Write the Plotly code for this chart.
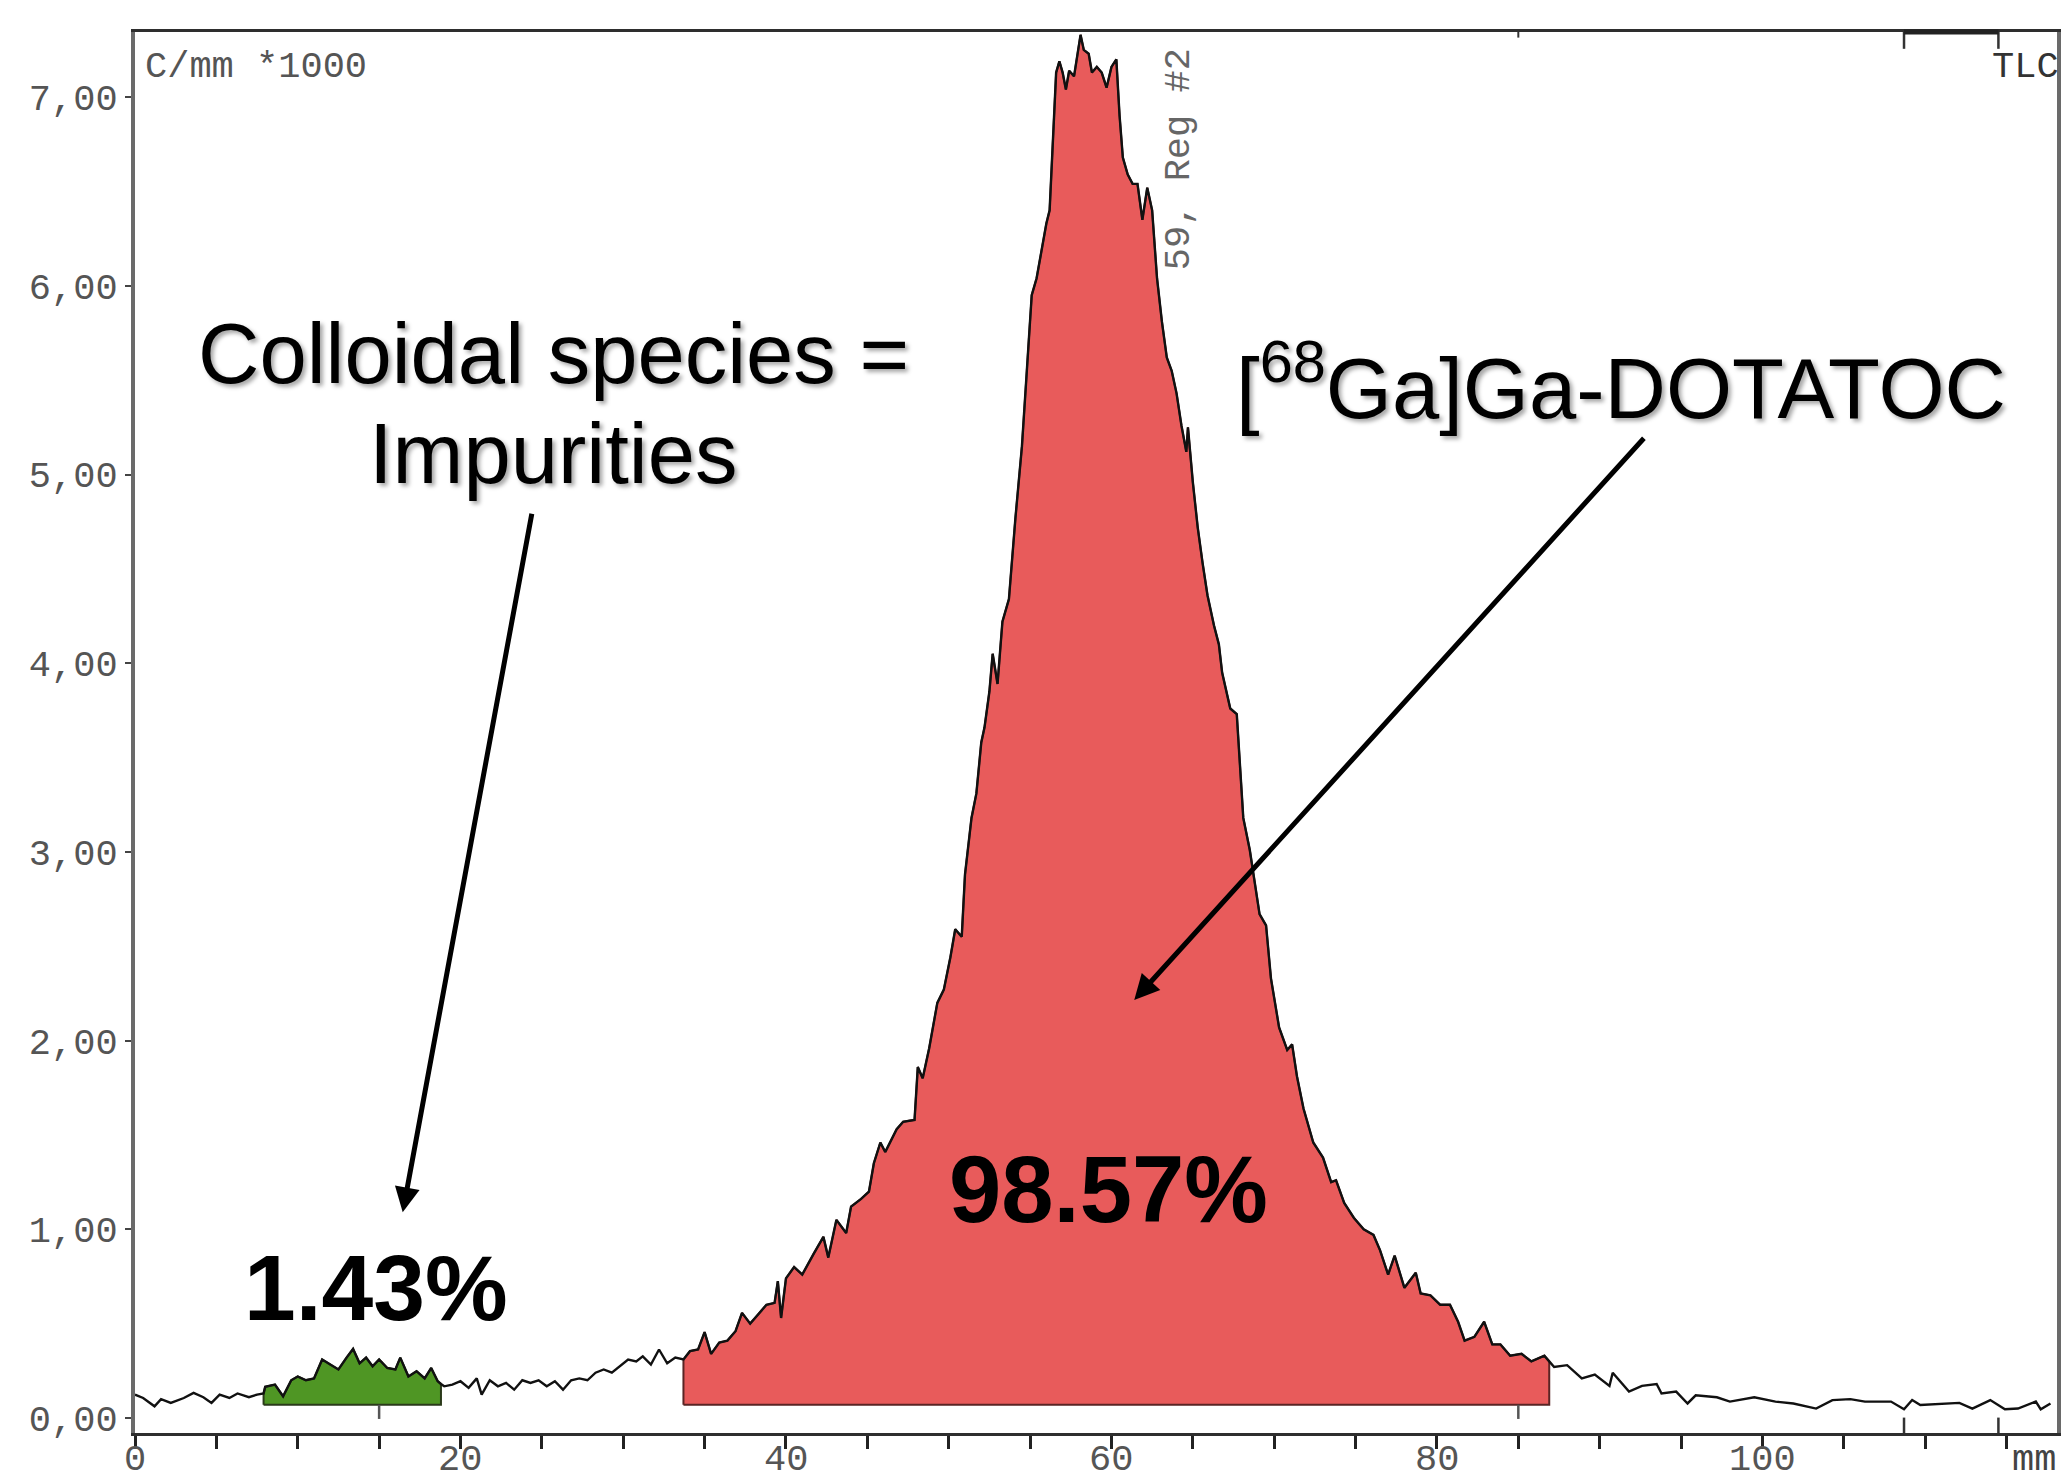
import plotly.graph_objects as go
import numpy as np

# ---------------- data ----------------
x_mm = [0.0, 0.5, 1.2, 1.6, 2.2, 3.0, 3.6, 4.2, 4.7, 5.2, 5.8, 6.3, 7.0, 7.5, 7.9,
        8.0, 8.6, 9.1, 9.6, 10.0, 10.5, 11.0, 11.5, 12.0, 12.5, 13.0, 13.4, 13.8, 14.2,
        14.6, 15.0, 15.5, 16.0, 16.3, 16.8, 17.3, 17.8, 18.2, 18.6, 18.8, 19.0, 19.5,
        20.0, 20.5, 21.0, 21.3, 21.8, 22.3, 22.8, 23.3, 23.8, 24.3, 24.8, 25.3, 25.8,
        26.3, 26.8, 27.3, 27.8, 28.3, 28.8, 29.3, 29.8, 30.3, 30.8, 31.2, 31.7, 32.2,
        32.7, 33.2, 33.7, 34.1, 34.6, 35.0, 35.4, 35.9, 36.4, 36.9, 37.3, 37.8, 38.3,
        38.8, 39.3, 39.5, 39.7, 40.0, 40.5, 41.0, 41.7, 42.3, 42.6, 43.1, 43.7, 44.0,
        44.6, 45.1, 45.4, 45.8, 46.1, 46.8, 47.2, 47.9, 48.1, 48.4, 48.8, 49.3, 49.7,
        50.1, 50.4, 50.8, 51.0, 51.4, 51.7, 52.0, 52.2, 52.5, 52.7, 53.0, 53.3, 53.7,
        54.1, 54.5, 54.8, 55.1, 55.4, 55.7, 56.0, 56.2, 56.4, 56.6, 56.8, 57.0, 57.2,
        57.4, 57.7, 57.9, 58.1, 58.3, 58.6, 58.8, 59.1, 59.4, 59.7, 60.0, 60.3, 60.5,
        60.7, 61.0, 61.3, 61.6, 61.9, 62.2, 62.5, 62.8, 63.1, 63.4, 63.7, 64.0, 64.3,
        64.6, 64.7, 65.0, 65.3, 65.6, 65.9, 66.3, 66.6, 66.8, 67.3, 67.7, 68.1, 68.5,
        69.1, 69.5, 69.8, 70.3, 70.8, 71.1, 71.4, 71.8, 72.4, 73.0, 73.5, 73.8, 74.3,
        74.9, 75.5, 76.1, 76.5, 77.0, 77.4, 78.0, 78.7, 79.0, 79.6, 80.2, 80.8, 81.3,
        81.7, 82.3, 82.9, 83.4, 83.9, 84.5, 85.2, 85.8, 86.6, 86.9, 87.2, 88.0, 88.9,
        89.7, 90.6, 90.8, 91.8, 92.6, 93.5, 93.8, 94.7, 95.4, 95.9, 97.2, 98.0, 99.5,
        100.8, 101.9, 103.3, 104.3, 105.4, 106.3, 107.9, 108.7, 109.2, 109.7, 111.1,
        112.1, 112.9, 114.0, 114.9, 115.7, 116.8, 117.1, 117.7]

counts_k = [0.124, 0.106, 0.062, 0.10, 0.08, 0.106, 0.133, 0.11, 0.08, 0.124, 0.106, 0.13, 0.11, 0.124, 0.13,
            0.165, 0.177, 0.115, 0.20, 0.22, 0.20, 0.21, 0.31, 0.283, 0.257, 0.32, 0.366, 0.29, 0.32,
            0.274, 0.31, 0.265, 0.257, 0.32, 0.22, 0.248, 0.21, 0.265, 0.195, 0.18, 0.168, 0.177,
            0.195, 0.16, 0.21, 0.124, 0.20, 0.168, 0.186, 0.15, 0.20, 0.186, 0.20, 0.168, 0.195,
            0.15, 0.20, 0.21, 0.20, 0.24, 0.257, 0.24, 0.274, 0.31, 0.30, 0.327, 0.283, 0.363,
            0.29, 0.32, 0.31, 0.354, 0.363, 0.455, 0.34, 0.40, 0.41, 0.46, 0.557, 0.50, 0.55,
            0.60, 0.61, 0.725, 0.53, 0.74, 0.80, 0.76, 0.87, 0.96, 0.85, 1.05, 0.98, 1.12,
            1.16, 1.20, 1.35, 1.46, 1.41, 1.53, 1.57, 1.58, 1.86, 1.80, 1.96, 2.20, 2.27,
            2.44, 2.59, 2.55, 2.88, 3.18, 3.31, 3.58, 3.66, 3.85, 4.05, 3.89, 4.22, 4.34,
            4.77, 5.15, 5.55, 5.95, 6.04, 6.19, 6.33, 6.40, 6.80, 7.13, 7.19, 7.13, 7.04,
            7.14, 7.11, 7.23, 7.33, 7.25, 7.23, 7.13, 7.16, 7.13, 7.05, 7.16, 7.20, 6.90,
            6.68, 6.59, 6.54, 6.54, 6.35, 6.52, 6.40, 6.04, 5.81, 5.62, 5.55, 5.43, 5.26,
            5.12, 5.25, 4.96, 4.72, 4.53, 4.36, 4.20, 4.10, 3.95, 3.76, 3.73, 3.18, 3.01,
            2.67, 2.61, 2.33, 2.07, 1.95, 1.98, 1.81, 1.64, 1.46, 1.38, 1.25, 1.26, 1.14,
            1.06, 1.00, 0.97, 0.89, 0.76, 0.86, 0.69, 0.77, 0.66, 0.65, 0.60, 0.60, 0.51,
            0.41, 0.43, 0.51, 0.39, 0.39, 0.33, 0.34, 0.30, 0.33, 0.30, 0.27, 0.28, 0.21,
            0.23, 0.17, 0.24, 0.14, 0.17, 0.18, 0.13, 0.14, 0.077, 0.12, 0.11, 0.087, 0.11,
            0.087, 0.077, 0.05, 0.095, 0.10, 0.087, 0.087, 0.046, 0.095, 0.069, 0.077,
            0.08, 0.05, 0.095, 0.046, 0.05, 0.087, 0.046, 0.077]

# integration regions (mm) and their baseline level
region_names = ["Colloidal species", "[68Ga]Ga-DOTATOC"]
region_start = [7.9, 33.7]
region_end = [18.8, 86.9]
region_baseline = [0.07, 0.07]
region_percent = ["1.43%", "98.57%"]

# instrument region marks (mm)
front_marks_mm = [15, 85]
side_marks_mm = [108.7, 114.5]

y_ticks = [0, 1, 2, 3, 4, 5, 6, 7]
y_ticktext = ["0,00", "1,00", "2,00", "3,00", "4,00", "5,00", "6,00", "7,00"]
x_ticks = [0, 20, 40, 60, 80, 100]
x_ticktext = ["0", "20", "40", "60", "80", "100"]
x_unit = "mm"

# ---------------- figure ----------------
X_RANGE = [0, 118.1]
Y_RANGE = [-0.0795, 7.345]
region_fill = ["#4f9624", "#e85b5b"]
region_edge = ["#2a3a1a", "#5a2424"]

xa = np.array(x_mm)
ya = np.array(counts_k)

fig = go.Figure()

for i in range(len(region_names)):
    s, e, b = region_start[i], region_end[i], region_baseline[i]
    m = (xa > s) & (xa < e)
    px = [s, s] + list(xa[m]) + [e, e, s]
    py = [b, float(np.interp(s, xa, ya))] + list(ya[m]) + [float(np.interp(e, xa, ya)), b, b]
    fig.add_trace(go.Scatter(x=px, y=py, mode="lines", fill="toself",
                             fillcolor=region_fill[i],
                             line=dict(color=region_edge[i], width=2),
                             hoverinfo="skip", showlegend=False))

fig.add_trace(go.Scatter(x=x_mm, y=counts_k, mode="lines",
                         line=dict(color="#111111", width=2.4),
                         hoverinfo="skip", showlegend=False))

shapes = []
for xm in front_marks_mm:
    shapes.append(dict(type="line", xref="x", yref="y", x0=xm, x1=xm, y0=-0.005, y1=0.07,
                       line=dict(color="#555555", width=2.5)))
for xm in side_marks_mm:
    shapes.append(dict(type="line", xref="x", yref="paper", x0=xm, x1=xm, y0=0, y1=0.011,
                       line=dict(color="#333333", width=2.5)))
    shapes.append(dict(type="line", xref="x", yref="paper", x0=xm, x1=xm, y0=1, y1=0.988,
                       line=dict(color="#333333", width=2.5)))
shapes.append(dict(type="line", xref="x", yref="paper", x0=side_marks_mm[0], x1=side_marks_mm[1],
                   y0=1, y1=1, line=dict(color="#222222", width=5)))
shapes.append(dict(type="line", xref="x", yref="paper", x0=front_marks_mm[1], x1=front_marks_mm[1],
                   y0=1, y1=0.996, line=dict(color="#333333", width=2)))

mono = "Liberation Mono, Courier New, monospace"
sans = "Liberation Sans, Arial, sans-serif"
shadow = "3px 3px 4px rgba(0,0,0,0.35)"

annotations = [
    dict(x=0, y=7.16, xref="x", yref="y", text="C/mm *1000", showarrow=False,
         xanchor="left", yanchor="middle", xshift=8, font=dict(family=mono, size=37, color="#555555")),
    dict(x=X_RANGE[1], y=7.16, xref="x", yref="y", text="TLC", showarrow=False,
         xanchor="right", yanchor="middle", xshift=4, font=dict(family=mono, size=37, color="#333333")),
    dict(x=64.2, y=6.67, xref="x", yref="y", text="59, Reg #2", showarrow=False, textangle=-90,
         xanchor="center", yanchor="middle", font=dict(family=mono, size=37, color="#666666")),
    dict(x=116.7, y=0, xref="x", yref="paper", text=x_unit, showarrow=False,
         xanchor="center", yanchor="top", yshift=-4, font=dict(family=mono, size=37, color="#444444")),
    dict(x=25.7, y=5.64, xref="x", yref="y", text="Colloidal species =", showarrow=False,
         xanchor="center", yanchor="middle", font=dict(family=sans, size=85, color="black", shadow=shadow)),
    dict(x=25.7, y=5.11, xref="x", yref="y", text="Impurities", showarrow=False,
         xanchor="center", yanchor="middle", font=dict(family=sans, size=85, color="black", shadow=shadow)),
    dict(x=91.3, y=5.49, xref="x", yref="y", text="[<sup>68</sup>Ga]Ga-DOTATOC", showarrow=False,
         xanchor="center", yanchor="middle", font=dict(family=sans, size=85, color="black", shadow=shadow)),
    dict(x=14.8, y=0.69, xref="x", yref="y", text="<b>" + region_percent[0] + "</b>", showarrow=False,
         xanchor="center", yanchor="middle", font=dict(family=sans, size=93, color="black")),
    dict(x=59.8, y=1.21, xref="x", yref="y", text="<b>" + region_percent[1] + "</b>", showarrow=False,
         xanchor="center", yanchor="middle", font=dict(family=sans, size=94, color="black")),
    # arrows
    dict(x=16.45, y=1.09, ax=24.4, ay=4.80, xref="x", yref="y", axref="x", ayref="y", text="",
         showarrow=True, arrowhead=2, arrowsize=1.0, arrowwidth=5, arrowcolor="black"),
    dict(x=61.4, y=2.215, ax=92.8, ay=5.20, xref="x", yref="y", axref="x", ayref="y", text="",
         showarrow=True, arrowhead=2, arrowsize=1.0, arrowwidth=5, arrowcolor="black"),
]

# x tick labels (drawn close under the axis, partly cut by the page edge as in the reference)
for tv, tt in zip(x_ticks, x_ticktext):
    annotations.append(dict(x=tv, y=0, xref="x", yref="paper", text=tt, showarrow=False,
                            xanchor="center", yanchor="top", yshift=-4,
                            font=dict(family=mono, size=37, color="#555555")))

fig.update_layout(
    width=2063, height=1473,
    margin=dict(l=135, r=6, t=32, b=40, autoexpand=False),
    paper_bgcolor="white", plot_bgcolor="white",
    showlegend=False, hovermode=False,
    shapes=shapes, annotations=annotations,
    xaxis=dict(range=X_RANGE, tickvals=x_ticks, ticks="outside", ticklen=13, tickwidth=3,
               tickcolor="#222222", showgrid=False, zeroline=False, showticklabels=False,
               showline=True, linecolor="#2e2e2e", linewidth=3, mirror=True,
               minor=dict(dtick=5, tick0=0, ticks="outside", ticklen=13, tickwidth=3, tickcolor="#222222"),
               automargin=False),
    yaxis=dict(range=Y_RANGE, tickvals=y_ticks, ticktext=y_ticktext, ticks="outside", ticklen=6,
               tickwidth=2, tickcolor="#444444", showgrid=False, zeroline=False,
               showline=True, linecolor="#6a6a6a", linewidth=4, mirror=True,
               tickfont=dict(family=mono, size=37, color="#555555"), automargin=False),
)

fig.write_html("out.html", config={"displayModeBar": False},
               post_script="document.body.style.margin='0';document.body.style.overflow='hidden';")
